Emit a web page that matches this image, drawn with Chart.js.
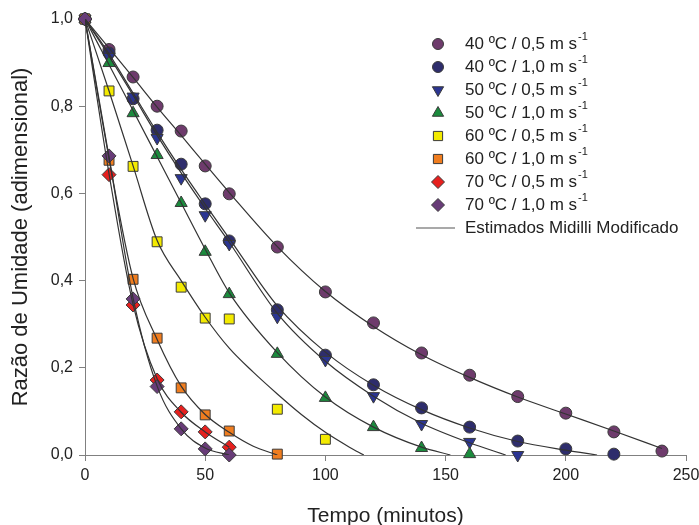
<!DOCTYPE html>
<html>
<head>
<meta charset="utf-8">
<script src="https://cdn.jsdelivr.net/npm/chart.js@4.4.1/dist/chart.umd.min.js"></script>
<style>
  html, body { margin: 0; padding: 0; background: #fff; }
  #grafico { display: block; }
</style>
</head>
<body>
<canvas id="grafico" width="699" height="525"></canvas>
<script>
// Pontos experimentais (razão de umidade x tempo em minutos)
const tempo40_05 = [0, 10, 20, 30, 40, 50, 60, 80, 100, 120, 140, 160, 180, 200, 220, 240];
const rm40_05 = [1.0, 0.93, 0.867, 0.80, 0.743, 0.663, 0.599, 0.477, 0.374, 0.303, 0.234, 0.183, 0.134, 0.096, 0.053, 0.009];

const tempo40_10 = [0, 10, 20, 30, 40, 50, 60, 80, 100, 120, 140, 160, 180, 200, 220];
const rm40_10 = [1.0, 0.922, 0.817, 0.745, 0.667, 0.576, 0.491, 0.333, 0.229, 0.161, 0.108, 0.064, 0.032, 0.014, 0.002];

const tempo50_05 = [0, 10, 20, 30, 40, 50, 60, 80, 100, 120, 140, 160, 180];
const rm50_05 = [1.0, 0.913, 0.822, 0.727, 0.635, 0.55, 0.484, 0.317, 0.218, 0.135, 0.071, 0.03, 0.0];

const tempo50_10 = [0, 10, 20, 30, 40, 50, 60, 80, 100, 120, 140, 160];
const rm50_10 = [1.0, 0.899, 0.784, 0.688, 0.578, 0.466, 0.369, 0.232, 0.131, 0.064, 0.016, 0.002];

const tempo60_05 = [0, 10, 20, 30, 40, 50, 60, 80, 100];
const rm60_05 = [1.0, 0.835, 0.662, 0.489, 0.385, 0.314, 0.312, 0.105, 0.036];

const tempo60_10 = [0, 10, 20, 30, 40, 50, 60, 80];
const rm60_10 = [1.0, 0.676, 0.403, 0.268, 0.154, 0.092, 0.055, 0.002];

const tempo70_05 = [0, 10, 20, 30, 40, 50, 60];
const rm70_05 = [1.0, 0.643, 0.344, 0.172, 0.099, 0.053, 0.018];

const tempo70_10 = [0, 10, 20, 30, 40, 50, 60];
const rm70_10 = [1.0, 0.686, 0.358, 0.157, 0.06, 0.014, 0.0];

// Curvas estimadas (Midilli modificado)
const tc40_05 = [0, 10, 20, 30, 40, 50, 60, 80, 100, 120, 140, 160, 180, 200, 220, 240];
const est40_05 = [1.0, 0.933, 0.866, 0.798, 0.733, 0.667, 0.602, 0.478, 0.375, 0.295, 0.230, 0.178, 0.133, 0.094, 0.055, 0.015];

const tc40_10 = [0, 10, 20, 30, 40, 50, 60, 80, 100, 120, 140, 160, 180, 200, 213];
const est40_10 = [1.0, 0.92, 0.83, 0.74, 0.655, 0.575, 0.497, 0.342, 0.236, 0.16, 0.104, 0.062, 0.031, 0.011, 0.0];

const tc50_05 = [0, 10, 20, 30, 40, 50, 60, 80, 100, 120, 140, 160, 175];
const est50_05 = [1.0, 0.915, 0.825, 0.733, 0.647, 0.566, 0.488, 0.325, 0.215, 0.135, 0.073, 0.028, 0.0];

const tc50_10 = [0, 10, 20, 30, 40, 50, 60, 80, 100, 120, 140, 152];
const est50_10 = [1.0, 0.895, 0.79, 0.684, 0.578, 0.472, 0.372, 0.235, 0.133, 0.064, 0.018, 0.0];

const tc60_05 = [0, 10, 20, 30, 40, 50, 60, 70, 80, 90, 100, 110, 116];
const est60_05 = [1.0, 0.835, 0.663, 0.492, 0.40, 0.316, 0.245, 0.19, 0.14, 0.093, 0.052, 0.018, 0.0];

const tc60_10 = [0, 10, 20, 30, 40, 50, 60, 70, 80];
const est60_10 = [1.0, 0.68, 0.405, 0.265, 0.158, 0.093, 0.052, 0.02, 0.0];

const tc70_05 = [0, 10, 20, 30, 40, 50, 60];
const est70_05 = [1.0, 0.645, 0.345, 0.175, 0.098, 0.053, 0.018];

const tc70_10 = [0, 10, 20, 30, 40, 50, 60];
const est70_10 = [1.0, 0.683, 0.36, 0.158, 0.06, 0.016, 0.0];

const rotulos = ['40 ºC / 0,5 m s', '40 ºC / 1,0 m s', '50 ºC / 0,5 m s', '50 ºC / 1,0 m s',
                 '60 ºC / 0,5 m s', '60 ºC / 1,0 m s', '70 ºC / 0,5 m s', '70 ºC / 1,0 m s'];
const rotuloCurva = 'Estimados Midilli Modificado';

const xTicks = [0, 50, 100, 150, 200, 250];
const yTicks = [0, 0.2, 0.4, 0.6, 0.8, 1.0];

const pontos = [
  [tempo40_05, rm40_05], [tempo40_10, rm40_10], [tempo50_05, rm50_05], [tempo50_10, rm50_10],
  [tempo60_05, rm60_05], [tempo60_10, rm60_10], [tempo70_05, rm70_05], [tempo70_10, rm70_10]
];
const curvas = [
  [tc40_05, est40_05], [tc40_10, est40_10], [tc50_05, est50_05], [tc50_10, est50_10],
  [tc60_05, est60_05], [tc60_10, est60_10], [tc70_05, est70_05], [tc70_10, est70_10]
];

// estilo dos marcadores
const cores = ['#6e3b6c', '#2e2d6c', '#2b3592', '#1b8b3d', '#f3ea00', '#f07d1f', '#e6201e', '#683c78'];
const formas = ['circle', 'circle', 'triangle', 'triangle', 'rect', 'rect', 'rectRot', 'rectRot'];
const raios = [6, 6, 7, 7, 7, 7, 7, 7];
const rotacoes = [0, 0, 180, 0, 0, 0, 0, 0];
const bordaMarcador = '#3a3a3a';

const toXY = (xs, ys) => xs.map((x, i) => ({ x: x, y: ys[i] }));

let datasets = [];
curvas.forEach(([xs, ys], i) => {
  datasets.push({
    label: rotuloCurva,
    data: toXY(xs, ys),
    showLine: true,
    borderColor: '#333333',
    borderWidth: 1.2,
    pointRadius: 0,
    cubicInterpolationMode: 'monotone',
    fill: false,
    order: 0
  });
});
pontos.forEach(([xs, ys], i) => {
  datasets.push({
    label: rotulos[i] + '⁻¹',
    data: toXY(xs, ys),
    showLine: false,
    pointStyle: formas[i],
    pointRadius: raios[i],
    pointRotation: rotacoes[i],
    backgroundColor: cores[i],
    borderColor: bordaMarcador,
    borderWidth: 1,
    clip: false,
    order: 8 - i // os últimos ficam por cima
  });
});

// legenda desenhada dentro da área do gráfico
const legendaPlugin = {
  id: 'legendaInterna',
  afterDraw(chart) {
    const ctx = chart.ctx;
    const xMarcador = 438, xTexto = 465;
    ctx.save();
    rotulos.forEach((txt, i) => {
      const y = 44 + i * 23;
      ctx.fillStyle = cores[i];
      ctx.strokeStyle = bordaMarcador;
      ctx.lineWidth = 1;
      Chart.helpers.drawPoint(ctx, { pointStyle: formas[i], radius: raios[i] - 0.5, rotation: rotacoes[i], borderWidth: 1 }, xMarcador, y);
      ctx.fillStyle = '#222';
      ctx.font = '17px "Liberation Sans", Arial, sans-serif';
      ctx.textBaseline = 'middle';
      ctx.textAlign = 'left';
      ctx.fillText(txt, xTexto, y);
      const w = ctx.measureText(txt).width;
      ctx.font = '11px "Liberation Sans", Arial, sans-serif';
      ctx.fillText('-1', xTexto + w + 1, y - 7);
    });
    const yl = 44 + 8 * 23;
    ctx.strokeStyle = '#555';
    ctx.lineWidth = 1.2;
    ctx.beginPath();
    ctx.moveTo(416, yl);
    ctx.lineTo(455, yl);
    ctx.stroke();
    ctx.fillStyle = '#222';
    ctx.font = '17px "Liberation Sans", Arial, sans-serif';
    ctx.textBaseline = 'middle';
    ctx.fillText(rotuloCurva, xTexto, yl);
    ctx.restore();
  }
};

const corEixo = '#808080';
const fonte = '"Liberation Sans", Arial, sans-serif';

new Chart(document.getElementById('grafico').getContext('2d'), {
  type: 'scatter',
  data: { datasets: datasets },
  options: {
    responsive: false,
    animation: false,
    layout: { padding: { left: 0, right: 13, top: 19, bottom: 0 } },
    plugins: {
      legend: { display: false },
      tooltip: { enabled: false }
    },
    scales: {
      x: {
        type: 'linear',
        min: 0,
        max: 250,
        afterBuildTicks: (axis) => { axis.ticks = xTicks.map(v => ({ value: v })); },
        afterFit: (axis) => { axis.height = 70; axis.paddingLeft = 0; axis.paddingRight = 0; },
        ticks: { font: { family: fonte, size: 16 }, color: '#222', padding: 5, maxRotation: 0 },
        grid: { drawOnChartArea: false, drawTicks: true, tickLength: 6, color: corEixo },
        border: { display: true, color: corEixo, width: 1 },
        title: {
          display: true,
          text: 'Tempo (minutos)',
          font: { family: fonte, size: 21, lineHeight: 0.8 },
          color: '#222',
          padding: { top: 0, bottom: 0 }
        }
      },
      y: {
        type: 'linear',
        min: 0,
        max: 1,
        afterBuildTicks: (axis) => { axis.ticks = yTicks.map(v => ({ value: v })); },
        afterFit: (axis) => { axis.width = 85; },
        ticks: {
          font: { family: fonte, size: 16 },
          color: '#222',
          padding: 6,
          callback: (v) => v.toFixed(1).replace('.', ',')
        },
        grid: { drawOnChartArea: false, drawTicks: true, tickLength: 6, color: corEixo },
        border: { display: true, color: corEixo, width: 1 },
        title: {
          display: true,
          text: 'Razão de Umidade (adimensional)',
          font: { family: fonte, size: 22, lineHeight: 1.1 },
          color: '#222',
          padding: { top: 9, bottom: 0 }
        }
      }
    }
  },
  plugins: [legendaPlugin]
});
</script>
</body>
</html>
